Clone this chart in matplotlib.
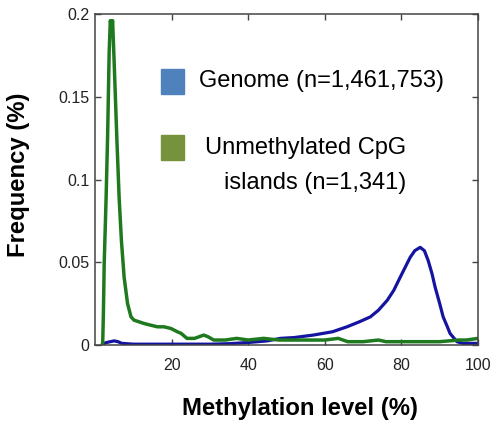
import matplotlib.pyplot as plt
from matplotlib.patches import Rectangle

plt.rcParams['font.family'] = ['Liberation Sans', 'DejaVu Sans']

# values
genome_x = [2, 3, 4, 5, 6, 7, 10, 20, 30, 35, 40, 45, 48.4, 52, 57, 62, 65.8, 69, 71.9, 74,
            76.3, 78, 79.7, 81, 82.3, 83.5, 84.9, 86, 87, 88, 88.8, 90, 90.9, 92, 92.7, 94.5, 96, 100]
genome_y = [0.0005, 0.0015, 0.002, 0.0025, 0.002, 0.001, 0.0005, 0.0005, 0.0005, 0.0008, 0.0015,
            0.0025, 0.004, 0.0045, 0.006, 0.008, 0.011, 0.014, 0.017, 0.021, 0.027, 0.033, 0.041,
            0.047, 0.053, 0.057, 0.059, 0.057, 0.051, 0.043, 0.035, 0.025, 0.017, 0.011, 0.007,
            0.002, 0.001, 0.001]

cgi_x = [2.0, 2.2, 2.4, 2.9, 3.3, 3.7, 4.0, 4.3, 4.6, 5.0, 5.7, 6.3, 6.9, 7.6, 8.5, 9.4, 10.2,
         11.5, 12.8, 14.5, 16.3, 18.0, 19.8, 21.5, 22.5, 24, 26, 28.4, 29.5, 31, 34, 37, 40, 44,
         48, 52, 56, 60, 63.5, 66, 70, 74, 76, 80, 85, 90, 95, 97, 100]
cgi_y = [0, 0.02, 0.049, 0.089, 0.127, 0.177, 0.196, 0.192, 0.196, 0.171, 0.125, 0.089, 0.063,
         0.041, 0.025, 0.017, 0.015, 0.014, 0.013, 0.012, 0.011, 0.011, 0.010, 0.008, 0.007,
         0.004, 0.004, 0.006, 0.005, 0.003, 0.003, 0.004, 0.003, 0.004, 0.003, 0.003, 0.003,
         0.003, 0.004, 0.002, 0.002, 0.003, 0.002, 0.002, 0.002, 0.002, 0.003, 0.003, 0.004]

xticks = [20, 40, 60, 80, 100]
yticks = [0, 0.05, 0.1, 0.15, 0.2]
ytick_labels = ['0', '0.05', '0.1', '0.15', '0.2']

fig = plt.figure(figsize=(4.9, 4.23), dpi=100)
ax = fig.add_axes([95/490, 1 - 345/423, 383/490, 331/423])

ax.plot(genome_x, genome_y, color='#1414a0', lw=2.3)
ax.plot(cgi_x, cgi_y, color='#1f7a1f', lw=2.5)

ax.set_xlim(0, 100)
ax.set_ylim(0, 0.2)
ax.set_xticks(xticks)
ax.set_yticks(yticks)
ax.set_yticklabels(ytick_labels)
ax.tick_params(direction='in', top=True, right=True, length=4, width=1,
               labelsize=11.5, labelcolor='#222222', color='#444444')
ax.tick_params(axis='x', pad=9)
ax.tick_params(axis='y', pad=4)
for s in ax.spines.values():
    s.set_color('#444444')
    s.set_linewidth(1.1)

# hand drawn key
ax.add_patch(Rectangle((0.172, 0.758), 0.060, 0.0755, transform=ax.transAxes,
                       color='#4f81bd', clip_on=False))
ax.add_patch(Rectangle((0.172, 0.559), 0.060, 0.0755, transform=ax.transAxes,
                       color='#76923c', clip_on=False))
ax.text(0.272, 0.798, 'Genome (n=1,461,753)', transform=ax.transAxes,
        fontsize=17, va='center', ha='left')
ax.text(0.287, 0.595, 'Unmethylated CpG', transform=ax.transAxes,
        fontsize=17, va='center', ha='left')
ax.text(0.337, 0.489, 'islands (n=1,341)', transform=ax.transAxes,
        fontsize=17, va='center', ha='left')

fig.text(300/490, 1 - 408/423, 'Methylation level (%)', ha='center', va='center',
         fontsize=17.2, weight='bold')
fig.text(18/490, 1 - 175/423, 'Frequency (%)', ha='center', va='center',
         fontsize=17.2, weight='bold', rotation=90)

fig.savefig('out.png', dpi=100)
